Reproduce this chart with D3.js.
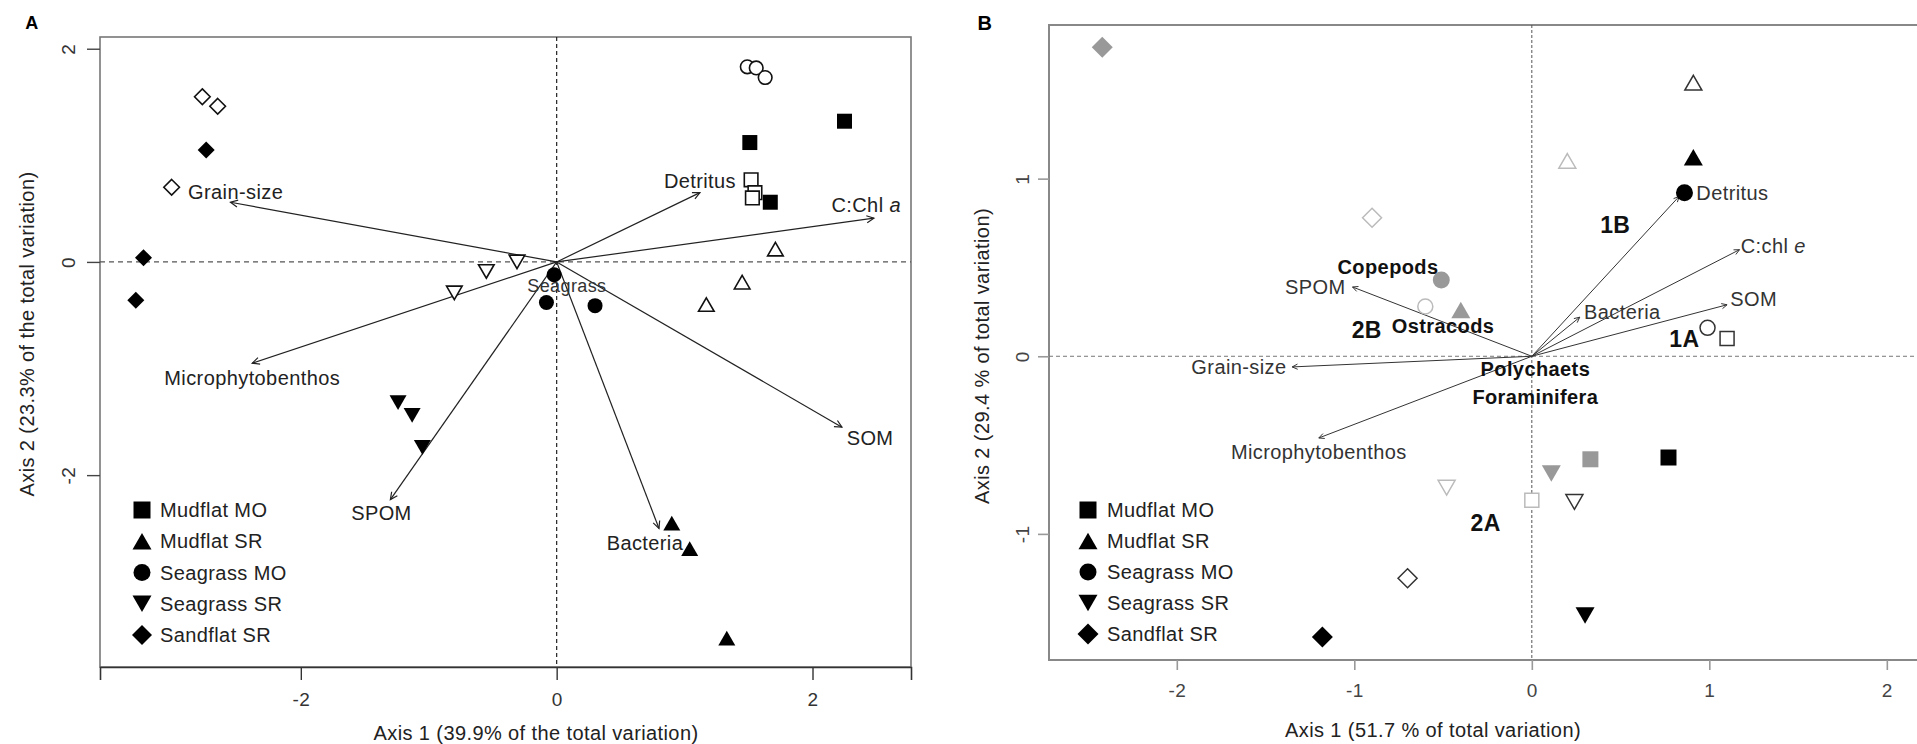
<!DOCTYPE html>
<html><head><meta charset="utf-8">
<script src="https://cdn.jsdelivr.net/npm/d3@7"></script>
<style>body{margin:0;background:#fff} svg{display:block} text{font-family:"Liberation Sans",Arial,Helvetica,sans-serif;letter-spacing:0.4px}</style>
</head><body><svg id="c" width="1917" height="744"></svg>
<script>
// ---------- data ----------
const siteNames = ["Mudflat MO","Mudflat SR","Seagrass MO","Seagrass SR","Sandflat SR"];
const siteShapes = ["square","triangle","circle","triangleDown","diamond"];

// Panel A: samples (site index, filled = first survey, open = second survey)
const aSites   = [0,0,0, 1,1,1, 2,2,2, 3,3,3, 4,4,4];
const aFilledX = [1.51,1.67,2.25, 0.90,1.04,1.33, -0.02,-0.08,0.30, -1.24,-1.13,-1.05, -2.74,-3.23,-3.29];
const aFilledY = [1.12,0.56,1.32, -2.45,-2.69,-3.53, -0.12,-0.38,-0.41, -1.32,-1.44,-1.74, 1.05,0.04,-0.36];
const aOpenX   = [1.52,1.55,1.53, 1.71,1.45,1.17, 1.49,1.56,1.63, -0.31,-0.55,-0.80, -2.77,-2.65,-3.01];
const aOpenY   = [0.77,0.65,0.60, 0.12,-0.19,-0.40, 1.83,1.82,1.73, 0.00,-0.09,-0.29, 1.55,1.46,0.70];

// Panel A: environmental vectors
const aVecNames = ["Detritus","C:Chl a","SOM","Bacteria","SPOM","Microphytobenthos","Grain-size"];
const aVecX = [1.12, 2.48, 2.23, 0.80, -1.30, -2.38, -2.55];
const aVecY = [0.65, 0.41, -1.55, -2.50, -2.23, -0.95, 0.56];
const aLabX = [1.12, 2.42, 2.45, 0.69, -1.37, -2.38, -2.51];
const aLabY = [0.76, 0.53, -1.65, -2.64, -2.36, -1.09, 0.66];
const aExtraNames = ["Seagrass"];
const aExtraX = [0.08];
const aExtraY = [-0.23];

// Panel B: sites × four groups
const bSites  = [0,1,2,3,4];
const bBlackX = [0.77, 0.91, 0.86, 0.30, -1.18];
const bBlackY = [-0.57, 1.12, 0.92, -1.46, -1.58];
const bGrayX  = [0.33, -0.40, -0.51, 0.11, -2.42];
const bGrayY  = [-0.58, 0.26, 0.43, -0.66, 1.74];
const bOpenX  = [1.10, 0.91, 0.99, 0.24, -0.70];
const bOpenY  = [0.10, 1.54, 0.16, -0.82, -1.25];
const bLightX = [0.00, 0.20, -0.60, -0.48, -0.90];
const bLightY = [-0.81, 1.10, 0.28, -0.74, 0.78];

// Panel B: vectors
const bVecNames = ["Detritus","C:chl e","SOM","Bacteria","SPOM","Grain-size","Microphytobenthos"];
const bVecX = [0.83, 1.17, 1.10, 0.27, -1.01, -1.35, -1.20];
const bVecY = [0.90, 0.60, 0.29, 0.22, 0.39, -0.06, -0.46];
const bLabX = [1.13, 1.36, 1.25, 0.51, -1.22, -1.65, -1.20];
const bLabY = [0.92, 0.62, 0.32, 0.25, 0.39, -0.06, -0.54];
const taxaNames = ["Copepods","Ostracods","Polychaets","Foraminifera"];
const taxaX = [-0.81, -0.50, 0.02, 0.02];
const taxaY = [0.50, 0.17, -0.07, -0.23];
const groupNames = ["1A","1B","2A","2B"];
const groupX = [0.86, 0.47, -0.26, -0.93];
const groupY = [0.10, 0.74, -0.94, 0.15];

const aTicksX = [-2,0,2], aTicksY = [-2,0,2];
const bTicksX = [-2,-1,0,1,2], bTicksY = [-1,0,1];
const titles = {
  aX: "Axis 1 (39.9% of the total variation)",
  aY: "Axis 2 (23.3% of the total variation)",
  bX: "Axis 1 (51.7 % of total variation)",
  bY: "Axis 2 (29.4 % of total variation)"
};

// ---------- helpers ----------
const svg = d3.select("#c");
svg.append("rect").attr("width",1917).attr("height",744).attr("fill","#fff");
const fmt = d => String(d);   // plain hyphen-minus like the original

function shapePath(type, r) {
  if (type === "square") return `M${-r},${-r}h${2*r}v${2*r}h${-2*r}Z`;
  if (type === "circle") return `M${r},0A${r},${r} 0 1 1 ${-r},0A${r},${r} 0 1 1 ${r},0Z`;
  if (type === "diamond") return `M0,${-r}L${r},0L0,${r}L${-r},0Z`;
  const h = r * Math.sqrt(3);
  if (type === "triangle") return `M0,${-h/2}L${r},${h/2}L${-r},${h/2}Z`;
  return `M0,${h/2}L${r},${-h/2}L${-r},${-h/2}Z`;
}
function drawArrow(g, x0, y0, x1, y1, color, w, head) {
  g.append("line").attr("x1",x0).attr("y1",y0).attr("x2",x1).attr("y2",y1)
    .attr("stroke",color).attr("stroke-width",w);
  const a = Math.atan2(y1-y0, x1-x0), s = Math.PI/7;
  const p = `M${x1-head*Math.cos(a-s)},${y1-head*Math.sin(a-s)}L${x1},${y1}L${x1-head*Math.cos(a+s)},${y1-head*Math.sin(a+s)}`;
  g.append("path").attr("d",p).attr("fill","none").attr("stroke",color).attr("stroke-width",w);
}
function addLabel(g, x, y, name, opts) {
  const t = g.append("text").attr("x",x).attr("y",y).attr("text-anchor",opts.anchor||"middle")
    .attr("dominant-baseline","central").attr("font-size",opts.size).attr("fill",opts.color||"#222")
    .attr("font-weight",opts.bold?"bold":"normal");
  if (/ [ae]$/.test(name)) {
    t.append("tspan").text(name.slice(0,-1));
    t.append("tspan").attr("font-style","italic").text(name.slice(-1));
  } else t.text(name);
  return t;
}

// ---------- Panel A ----------
const xA = d3.scaleLinear().domain([-3.57, 2.77]).range([100, 911]);
const yA = d3.scaleLinear().domain([-3.80, 2.11]).range([667, 37]);
const gA = svg.append("g");
gA.append("rect").attr("x",100).attr("y",37).attr("width",811).attr("height",630)
  .attr("fill","none").attr("stroke","#777").attr("stroke-width",1.6);
gA.append("line").attr("x1",100).attr("x2",911).attr("y1",yA(0)).attr("y2",yA(0))
  .attr("stroke","#555").attr("stroke-width",1.2).attr("stroke-dasharray","5,4");
gA.append("line").attr("x1",xA(0)).attr("x2",xA(0)).attr("y1",37).attr("y2",667)
  .attr("stroke","#222").attr("stroke-width",1.2).attr("stroke-dasharray","4,3");

const axXA = gA.append("g").attr("transform","translate(0,667)")
  .call(d3.axisBottom(xA).tickValues(aTicksX).tickSize(13).tickPadding(13).tickFormat(fmt));
axXA.select(".domain").attr("stroke","#333").attr("stroke-width",1.6);
axXA.selectAll(".tick line").attr("stroke","#333").attr("stroke-width",1.4);
axXA.selectAll("text").attr("font-size",19).attr("fill","#333").attr("font-family","Liberation Sans, Arial, sans-serif");
const axYA = gA.append("g").attr("transform","translate(100,0)")
  .call(d3.axisLeft(yA).tickValues(aTicksY).tickSize(13).tickFormat(fmt));
axYA.select(".domain").remove();
axYA.selectAll(".tick line").attr("stroke","#444").attr("stroke-width",1.4);
axYA.selectAll("text").attr("font-size",19).attr("fill","#333").attr("font-family","Liberation Sans, Arial, sans-serif")
  .attr("transform","rotate(-90)").attr("x",0).attr("y",-32).attr("dy","0.35em").attr("text-anchor","middle");

aVecNames.forEach((n,i) => drawArrow(gA, xA(0), yA(0), xA(aVecX[i]), yA(aVecY[i]), "#222", 1.2, 8));

const sizeA = {square:7.5, triangle:8.5, triangleDown:8.5, circle:7.5, diamond:8.5};
aSites.forEach((s,i) => {
  const sh = siteShapes[s];
  gA.append("path").attr("d", shapePath(sh, sizeA[sh]-0.7))
    .attr("transform",`translate(${xA(aOpenX[i])},${yA(aOpenY[i])})`)
    .attr("fill","#fff").attr("stroke","#111").attr("stroke-width",1.6);
  gA.append("path").attr("d", shapePath(sh, sizeA[sh]))
    .attr("transform",`translate(${xA(aFilledX[i])},${yA(aFilledY[i])})`)
    .attr("fill","#000");
});
aVecNames.forEach((n,i) => addLabel(gA, xA(aLabX[i]), yA(aLabY[i]), n, {size:20}));
aExtraNames.forEach((n,i) => addLabel(gA, xA(aExtraX[i]), yA(aExtraY[i]), n, {size:18, color:"#333"}));

const legYA = d3.scaleLinear().domain([0,4]).range([510, 635]);
siteNames.forEach((n,i) => {
  const sh = siteShapes[i];
  const r = {square:8.5, triangle:9.5, triangleDown:9.5, circle:8.5, diamond:10}[sh];
  gA.append("path").attr("d", shapePath(sh, r)).attr("transform",`translate(142,${legYA(i)})`).attr("fill","#000");
  gA.append("text").attr("x",160).attr("y",legYA(i)).attr("dominant-baseline","central")
    .attr("font-size",20).attr("fill","#222").text(n);
});
gA.append("text").attr("x",536).attr("y",733).attr("text-anchor","middle").attr("dominant-baseline","central")
  .attr("font-size",20).attr("fill","#222").text(titles.aX);
gA.append("text").attr("transform","translate(27,334) rotate(-90)").attr("text-anchor","middle")
  .attr("dominant-baseline","central").attr("font-size",20).attr("fill","#222").text(titles.aY);
gA.append("text").attr("x",32).attr("y",23).attr("text-anchor","middle").attr("dominant-baseline","central")
  .attr("font-size",18).attr("font-weight","bold").text("A");

// ---------- Panel B ----------
const xB = d3.scaleLinear().domain([-2.72, 2.17]).range([1049, 1917]);
const yB = d3.scaleLinear().domain([-1.71, 1.865]).range([660, 25]);
const gB = svg.append("g");
gB.append("path").attr("d","M1930,25H1049V660H1930").attr("fill","none").attr("stroke","#888").attr("stroke-width",2);
gB.append("line").attr("x1",1049).attr("x2",1917).attr("y1",yB(0)).attr("y2",yB(0))
  .attr("stroke","#777").attr("stroke-width",1).attr("stroke-dasharray","4,3");
gB.append("line").attr("x1",xB(0)).attr("x2",xB(0)).attr("y1",25).attr("y2",660)
  .attr("stroke","#555").attr("stroke-width",1).attr("stroke-dasharray","3,2");

const axXB = gB.append("g").attr("transform","translate(0,660)")
  .call(d3.axisBottom(xB).tickValues(bTicksX).tickSize(10).tickPadding(14).tickFormat(fmt));
axXB.select(".domain").remove();
axXB.selectAll(".tick line").attr("stroke","#999").attr("stroke-width",1.6);
axXB.selectAll("text").attr("font-size",19).attr("fill","#444").attr("font-family","Liberation Sans, Arial, sans-serif");
const axYB = gB.append("g").attr("transform","translate(1049,0)")
  .call(d3.axisLeft(yB).tickValues(bTicksY).tickSize(11).tickFormat(fmt));
axYB.select(".domain").remove();
axYB.selectAll(".tick line").attr("stroke","#999").attr("stroke-width",1.6);
axYB.selectAll("text").attr("font-size",19).attr("fill","#444").attr("font-family","Liberation Sans, Arial, sans-serif")
  .attr("transform","rotate(-90)").attr("x",0).attr("y",-27).attr("dy","0.35em").attr("text-anchor","middle");

bVecNames.forEach((n,i) => drawArrow(gB, xB(0), yB(0), xB(bVecX[i]), yB(bVecY[i]), "#333", 1, 6));

const sizeB = {square:8, triangle:9.5, triangleDown:9.5, circle:8.5, diamond:10.5};
const bGroups = [
  {x:bLightX, y:bLightY, fill:"#fff", stroke:"#bbb", shrink:1},
  {x:bOpenX,  y:bOpenY,  fill:"#fff", stroke:"#333", shrink:1},
  {x:bGrayX,  y:bGrayY,  fill:"#999", stroke:"none", shrink:0},
  {x:bBlackX, y:bBlackY, fill:"#000", stroke:"none", shrink:0}
];
bGroups.forEach(gr => bSites.forEach((s,i) => {
  const sh = siteShapes[s];
  gB.append("path").attr("d", shapePath(sh, sizeB[sh]-gr.shrink))
    .attr("transform",`translate(${xB(gr.x[i])},${yB(gr.y[i])})`)
    .attr("fill",gr.fill).attr("stroke",gr.stroke).attr("stroke-width",1.5);
}));
bVecNames.forEach((n,i) => addLabel(gB, xB(bLabX[i]), yB(bLabY[i]), n, {size:20, color:"#333"}));
taxaNames.forEach((n,i) => addLabel(gB, xB(taxaX[i]), yB(taxaY[i]), n, {size:20, bold:true, color:"#111"}));
groupNames.forEach((n,i) => addLabel(gB, xB(groupX[i]), yB(groupY[i]), n, {size:23, bold:true, color:"#111"}));

const legYB = d3.scaleLinear().domain([0,4]).range([510, 634]);
siteNames.forEach((n,i) => {
  const sh = siteShapes[i];
  const r = {square:8.5, triangle:9.5, triangleDown:9.5, circle:8.5, diamond:10.5}[sh];
  gB.append("path").attr("d", shapePath(sh, r)).attr("transform",`translate(1088,${legYB(i)})`).attr("fill","#000");
  gB.append("text").attr("x",1107).attr("y",legYB(i)).attr("dominant-baseline","central")
    .attr("font-size",20).attr("fill","#222").text(n);
});
gB.append("text").attr("x",1433).attr("y",730).attr("text-anchor","middle").attr("dominant-baseline","central")
  .attr("font-size",20).attr("fill","#222").text(titles.bX);
gB.append("text").attr("transform","translate(982,356) rotate(-90)").attr("text-anchor","middle")
  .attr("dominant-baseline","central").attr("font-size",20).attr("fill","#222").text(titles.bY);
gB.append("text").attr("x",985).attr("y",23).attr("text-anchor","middle").attr("dominant-baseline","central")
  .attr("font-size",20).attr("font-weight","bold").text("B");
</script></body></html>
